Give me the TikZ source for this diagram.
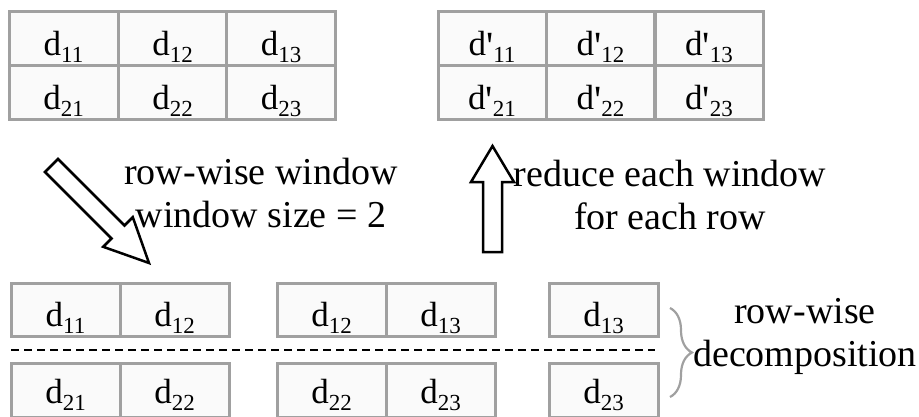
\documentclass[tikz,border=0pt]{standalone}
\usepackage{fontspec}
\setmainfont{Liberation Serif}
\usetikzlibrary{decorations.pathreplacing}

\definecolor{cellgray}{HTML}{A0A0A0}
\definecolor{cellfill}{HTML}{FAFAFA}
\newcommand{\dsub}[1]{d\raisebox{-0.2em}{\fontsize{23}{23}\selectfont #1}}
\newcommand{\dpr}[1]{d\raisebox{-4pt}{\fontsize{40}{40}\selectfont\textquotesingle}\raisebox{-0.2em}{\fontsize{23}{23}\selectfont #1}}

\begin{document}
\begin{tikzpicture}[x=1pt,y=-1pt,
  cell/.style={draw=cellgray, fill=cellfill, line width=3pt, minimum width=109pt, minimum height=54pt, inner sep=0pt, text height=35pt, text depth=1pt, font=\fontsize{35}{40}\selectfont},
  lowcell/.style={cell, text height=33pt, text depth=6pt},
  note/.style={align=center, font=\fontsize{38}{43}\selectfont},
  blockarrow/.style={draw=black, fill=white, line width=2.5pt, line join=miter}]
\useasboundingbox (0,0) rectangle (919,416);
% input matrix
\node[cell] (a11) at (63.5,38) {\dsub{11}};
\node[cell] (a12) at (172.5,38) {\dsub{12}};
\node[cell] (a13) at (281,38) {\dsub{13}};
\node[cell] (a21) at (63.5,92) {\dsub{21}};
\node[cell] (a22) at (172.5,92) {\dsub{22}};
\node[cell] (a23) at (281,92) {\dsub{23}};
% reduced matrix
\node[cell, minimum width=108pt] (r11) at (492,38) {\dpr{11}};
\node[cell, minimum width=108pt] (r12) at (600.5,38) {\dpr{12}};
\node[cell, minimum width=108pt] (r13) at (709,38) {\dpr{13}};
\node[cell, minimum width=108pt] (r21) at (492,92) {\dpr{21}};
\node[cell, minimum width=108pt] (r22) at (600.5,92) {\dpr{22}};
\node[cell, minimum width=108pt] (r23) at (709,92) {\dpr{23}};
% windows, first row
\node[cell, minimum height=53pt] (w1a) at (65.5,309.5) {\dsub{11}};
\node[cell, minimum height=53pt] (w1b) at (174.5,309.5) {\dsub{12}};
\node[cell, minimum height=53pt] (w2a) at (331.5,309.5) {\dsub{12}};
\node[cell, minimum height=53pt] (w2b) at (440.5,309.5) {\dsub{13}};
\node[cell, minimum height=53pt] (w3a) at (603.5,309.5) {\dsub{13}};
% windows, second row
\node[lowcell] (v1a) at (65.5,390) {\dsub{21}};
\node[lowcell] (v1b) at (174.5,390) {\dsub{22}};
\node[lowcell] (v2a) at (331.5,390) {\dsub{22}};
\node[lowcell] (v2b) at (440.5,390) {\dsub{23}};
\node[lowcell] (v3a) at (603.5,390) {\dsub{23}};
\coordinate (dashL) at (11,350);
\coordinate (dashR) at (655,350);
\draw[line width=2.5pt, dash pattern=on 7.5pt off 5.5pt] (dashL) -- (dashR);
% brace
\coordinate (braceTop) at (670,308);
\coordinate (braceBot) at (670,397);
\draw[cellgray, line width=2.2pt, decorate, decoration={brace, amplitude=22pt}] (braceTop) -- (braceBot);
\node[note] (decomp) at (805,336) {row-wise\\decomposition};
% block arrows
\draw[blockarrow] (58,159) -- (124.5,225.5) -- (132.8,217.2) -- (149,263) -- (103.2,246.8) -- (111.5,238.5) -- (45,172) -- cycle;
\draw[blockarrow] (483,252) -- (483,182) -- (471,182) -- (492.5,146) -- (514,182) -- (502,182) -- (502,252) -- cycle;
\node[note] (window) at (261,193) {row-wise window\\window size = 2};
\node[note] (reduce) at (670,195) {reduce each window\\for each row};
\end{tikzpicture}
\end{document}
